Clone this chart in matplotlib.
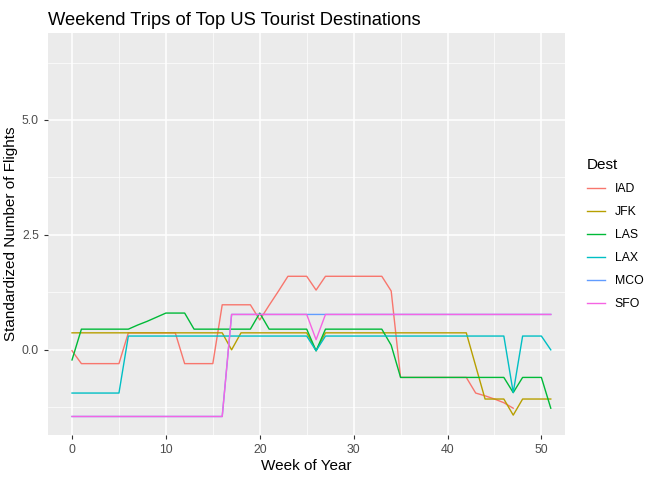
import matplotlib.pyplot as plt
import numpy as np

plt.rcParams['font.family'] = ['Liberation Sans', 'DejaVu Sans']

weeks = list(range(52))

def steps(pairs):
    # build a series from (week, value) knots, holding flat between listed weeks
    out = []
    ks = sorted(pairs)
    for w in weeks:
        v = None
        for k, val in ks:
            if k <= w:
                v = val
        out.append(v)
    return out

iad = steps([(0, -0.02), (1, -0.3), (6, 0.37), (12, -0.3), (16, 0.98), (20, 0.65),
             (21, 0.97), (22, 1.28), (23, 1.6), (26, 1.3), (27, 1.6), (34, 1.28),
             (35, -0.6), (43, -0.94), (44, -1.0), (45, -1.07), (46, -1.15), (47, -1.27)])
iad = iad[:48]
jfk = steps([(0, 0.37), (17, 0.0), (18, 0.37), (26, -0.02), (27, 0.37), (43, -0.35),
             (44, -1.07), (47, -1.42), (48, -1.07)])
las = steps([(0, -0.22), (1, 0.45), (7, 0.54), (8, 0.62), (9, 0.71), (10, 0.8),
             (13, 0.45), (20, 0.8), (21, 0.45), (26, -0.02), (27, 0.45), (34, 0.1),
             (35, -0.6), (47, -0.93), (48, -0.6), (51, -1.27)])
lax = steps([(0, -0.94), (6, 0.3), (26, -0.02), (27, 0.3), (47, -0.93), (48, 0.3), (51, 0.0)])
mco = steps([(0, -1.45), (17, 0.77)])
sfo = steps([(0, -1.45), (17, 0.77), (26, 0.22), (27, 0.77)])

names = ['IAD', 'JFK', 'LAS', 'LAX', 'MCO', 'SFO']
series = [iad, jfk, las, lax, mco, sfo]
colors = ['#F8766D', '#B79F00', '#00BA38', '#00BFC4', '#619CFF', '#F564E3']

fig = plt.figure(figsize=(6.72, 4.8), dpi=100)
ax = fig.add_axes([0.0714, 0.094, 0.77, 0.837])
ax.set_facecolor('#EBEBEB')
for s in ax.spines.values():
    s.set_visible(False)

for name, vals, c in zip(names, series, colors):
    ax.plot(weeks[:len(vals)], vals, color=c, lw=1, label=name)

ax.set_xlim(-2.56, 52.56)
ax.set_ylim(-1.85, 6.89)
ax.set_xticks([0, 10, 20, 30, 40, 50])
ax.set_yticks([0, 2.5, 5.0])
ax.set_yticklabels(['0.0', '2.5', '5.0'])
ax.set_xticks([5, 15, 25, 35, 45], minor=True)
ax.set_yticks([-1.25, 1.25, 3.75, 6.25], minor=True)
ax.grid(which='major', color='white', lw=1.1)
ax.grid(which='minor', color='white', lw=0.5)
ax.set_axisbelow(True)
ax.tick_params(which='major', colors='#333333', labelcolor='#4D4D4D', labelsize=8.8, length=3)
ax.tick_params(which='minor', length=0)

ax.set_xlabel('Week of Year', fontsize=11, labelpad=2)
ax.set_ylabel('Standardized Number of Flights', fontsize=11, labelpad=3)
ax.set_title('Weekend Trips of Top US Tourist Destinations', loc='left', fontsize=13.2, x=0.0)

leg = ax.legend(title='Dest', loc='center left', bbox_to_anchor=(1.02, 0.5), frameon=False,
                fontsize=8.8, title_fontsize=11, handlelength=1.5, labelspacing=0.9)
leg._legend_box.align = 'left'

fig.savefig('out.png')
